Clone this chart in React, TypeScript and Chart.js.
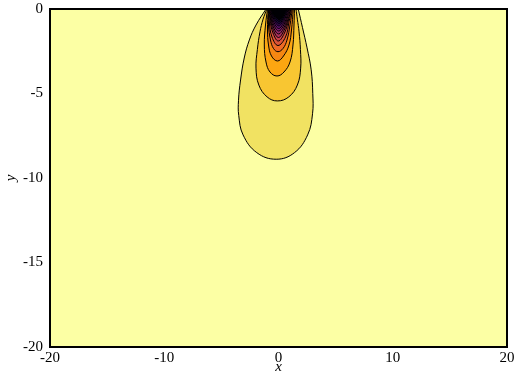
import React, { useEffect, useRef } from 'react';
import { Chart, registerables } from 'chart.js';

Chart.register(...registerables);

// Axis ranges / ticks
const xRange = [-20, 20];
const yRange = [-20, 0];
const xTickStep = 10;
const yTickStep = 5;

// Filled-band colours (inferno, reversed): band 0 = background, band k = inside contour k
const bandColors = [
  '#fcffa4', '#f1e262', '#f8c632', '#fca611', '#f58712', '#ed6925', '#db5339', '#c73f4b',
  '#ad315b', '#932665', '#781c6d', '#5c126c', '#410c63', '#240c49', '#10072a', '#000004',
];

// Contour lines (outer -> inner), [x, y] points
const contour01 = [[-1.09, 0], [-1.97, -0.95], [-2.55, -1.83], [-3.0, -2.9], [-3.32, -4.2], [-3.5, -5.4], [-3.48, -6.3], [-3.1, -7.45], [-1.9, -8.5], [-0.2, -8.89], [1.4, -8.5], [2.55, -7.45], [2.98, -6.2], [3.0, -5.0], [2.86, -3.6], [2.5, -2.3], [2.1, -1.1], [1.73, 0]];
const contour02 = [[-1.02, 0], [-1.35, -0.6], [-1.62, -1.35], [-1.85, -2.4], [-1.97, -3.5], [-1.72, -4.5], [-1.0, -5.2], [-0.1, -5.44], [0.9, -5.2], [1.65, -4.5], [1.94, -3.5], [1.92, -2.4], [1.8, -1.35], [1.65, -0.6], [1.53, 0]];
const contour03 = [[-0.963, 0], [-1.138, -0.947], [-1.243, -2.13], [-1.094, -3.136], [-0.744, -3.728], [-0.131, -3.964], [0.481, -3.728], [1.007, -3.136], [1.269, -2.13], [1.357, -0.947], [1.4, 0]];
const contour04 = [[-0.91, 0], [-0.963, -1.243], [-0.875, -2.13], [-0.613, -2.781], [-0.088, -3.077], [0.438, -2.781], [0.919, -2.13], [1.138, -1.243], [1.295, 0]];
const contour05 = [[-0.867, 0], [-0.875, -0.947], [-0.7, -1.834], [-0.438, -2.337], [-0.044, -2.527], [0.394, -2.337], [0.744, -1.834], [1.007, -0.947], [1.208, 0]];
const contour06 = [[-0.832, 0], [-0.805, -0.769], [-0.569, -1.657], [-0.044, -2.16], [0.613, -1.657], [0.919, -0.769], [1.138, 0]];
const contour07 = [[-0.797, 0], [-0.744, -0.651], [-0.481, -1.42], [-0.018, -1.893], [0.525, -1.42], [0.875, -0.651], [1.077, 0]];
const contour08 = [[-0.762, 0], [-0.7, -0.592], [-0.438, -1.272], [0, -1.686], [0.481, -1.272], [0.832, -0.592], [1.024, 0]];
const contour09 = [[-0.726, 0], [-0.656, -0.533], [-0.394, -1.154], [0.009, -1.479], [0.438, -1.154], [0.77, -0.533], [0.972, 0]];
const contour10 = [[-0.691, 0], [-0.613, -0.473], [-0.35, -1.035], [0.018, -1.302], [0.394, -1.035], [0.718, -0.473], [0.919, 0]];
const contour11 = [[-0.656, 0], [-0.569, -0.414], [-0.306, -0.917], [0.026, -1.154], [0.359, -0.917], [0.656, -0.414], [0.867, 0]];
const contour12 = [[-0.621, 0], [-0.525, -0.385], [-0.263, -0.799], [0.035, -1.006], [0.324, -0.799], [0.595, -0.385], [0.814, 0]];
const contour13 = [[-0.586, 0], [-0.481, -0.355], [-0.219, -0.71], [0.044, -0.888], [0.289, -0.71], [0.543, -0.355], [0.762, 0]];
const contour14 = [[-0.551, 0], [-0.438, -0.325], [-0.175, -0.621], [0.053, -0.769], [0.263, -0.621], [0.481, -0.325], [0.709, 0]];
const contour15 = [[-0.516, 0], [-0.394, -0.296], [-0.131, -0.533], [0.061, -0.651], [0.236, -0.533], [0.438, -0.296], [0.656, 0]];

const contours = [
  contour01, contour02, contour03, contour04, contour05, contour06, contour07, contour08,
  contour09, contour10, contour11, contour12, contour13, contour14, contour15,
];

const FONT = "'Liberation Serif', 'DejaVu Serif', serif";

const frame = {
  id: 'frame',
  beforeDraw(chart: any) {
    const { ctx, chartArea: a } = chart;
    ctx.save();
    ctx.fillStyle = bandColors[0];
    ctx.fillRect(a.left, a.top, a.right - a.left, a.bottom - a.top);
    ctx.restore();
  },
  afterDraw(chart: any) {
    const { ctx, chartArea: a } = chart;
    ctx.save();
    ctx.strokeStyle = '#000';
    ctx.lineWidth = 2;
    ctx.strokeRect(a.left, a.top, a.right - a.left, a.bottom - a.top);
    ctx.restore();
  },
};

export default function App() {
  const ref = useRef<HTMLCanvasElement>(null);
  useEffect(() => {
    if (!ref.current) return;
    const chart = new Chart(ref.current, {
      type: 'scatter',
      data: {
        datasets: contours.map((pts, i) => ({
          label: `level ${i + 1}`,
          data: pts.map(([x, y]) => ({ x, y })),
          showLine: true,
          fill: 'shape',
          backgroundColor: bandColors[i + 1],
          borderColor: '#000',
          borderWidth: 1,
          pointRadius: 0,
          pointHoverRadius: 0,
          tension: 0.4,
          order: contours.length - i,
        })),
      } as any,
      options: {
        animation: false,
        responsive: false,
        events: [],
        layout: { padding: { top: 9, right: 10, left: 0, bottom: 0 } },
        plugins: { legend: { display: false }, tooltip: { enabled: false } },
        scales: {
          x: {
            type: 'linear',
            min: xRange[0],
            max: xRange[1],
            grid: { display: false, drawTicks: false },
            border: { display: false },
            ticks: { stepSize: xTickStep, color: '#000', font: { family: FONT, size: 15 }, padding: 2, maxRotation: 0 },
            title: { display: true, text: 'x', color: '#000', font: { family: FONT, size: 15, style: 'italic' }, padding: { top: 0, bottom: 2 } },
            afterFit: (s: any) => { s.height = 31; },
          },
          y: {
            type: 'linear',
            min: yRange[0],
            max: yRange[1],
            grid: { display: false, drawTicks: false },
            border: { display: false },
            ticks: { stepSize: yTickStep, color: '#000', font: { family: FONT, size: 15 }, padding: 7 },
            title: { display: true, text: 'y', color: '#000', font: { family: FONT, size: 15, style: 'italic' }, padding: { top: 2, bottom: 0 } },
            afterFit: (s: any) => { s.width = 50; s.paddingTop = 0; s.paddingBottom = 0; },
          },
        },
      } as any,
      plugins: [frame],
    });
    return () => chart.destroy();
  }, []);
  return (
    <div style={{ position: 'fixed', left: 0, top: 0, width: 517, height: 378, background: '#fff' }}>
      <canvas ref={ref} width={517} height={378} style={{ display: 'block' }} />
    </div>
  );
}
